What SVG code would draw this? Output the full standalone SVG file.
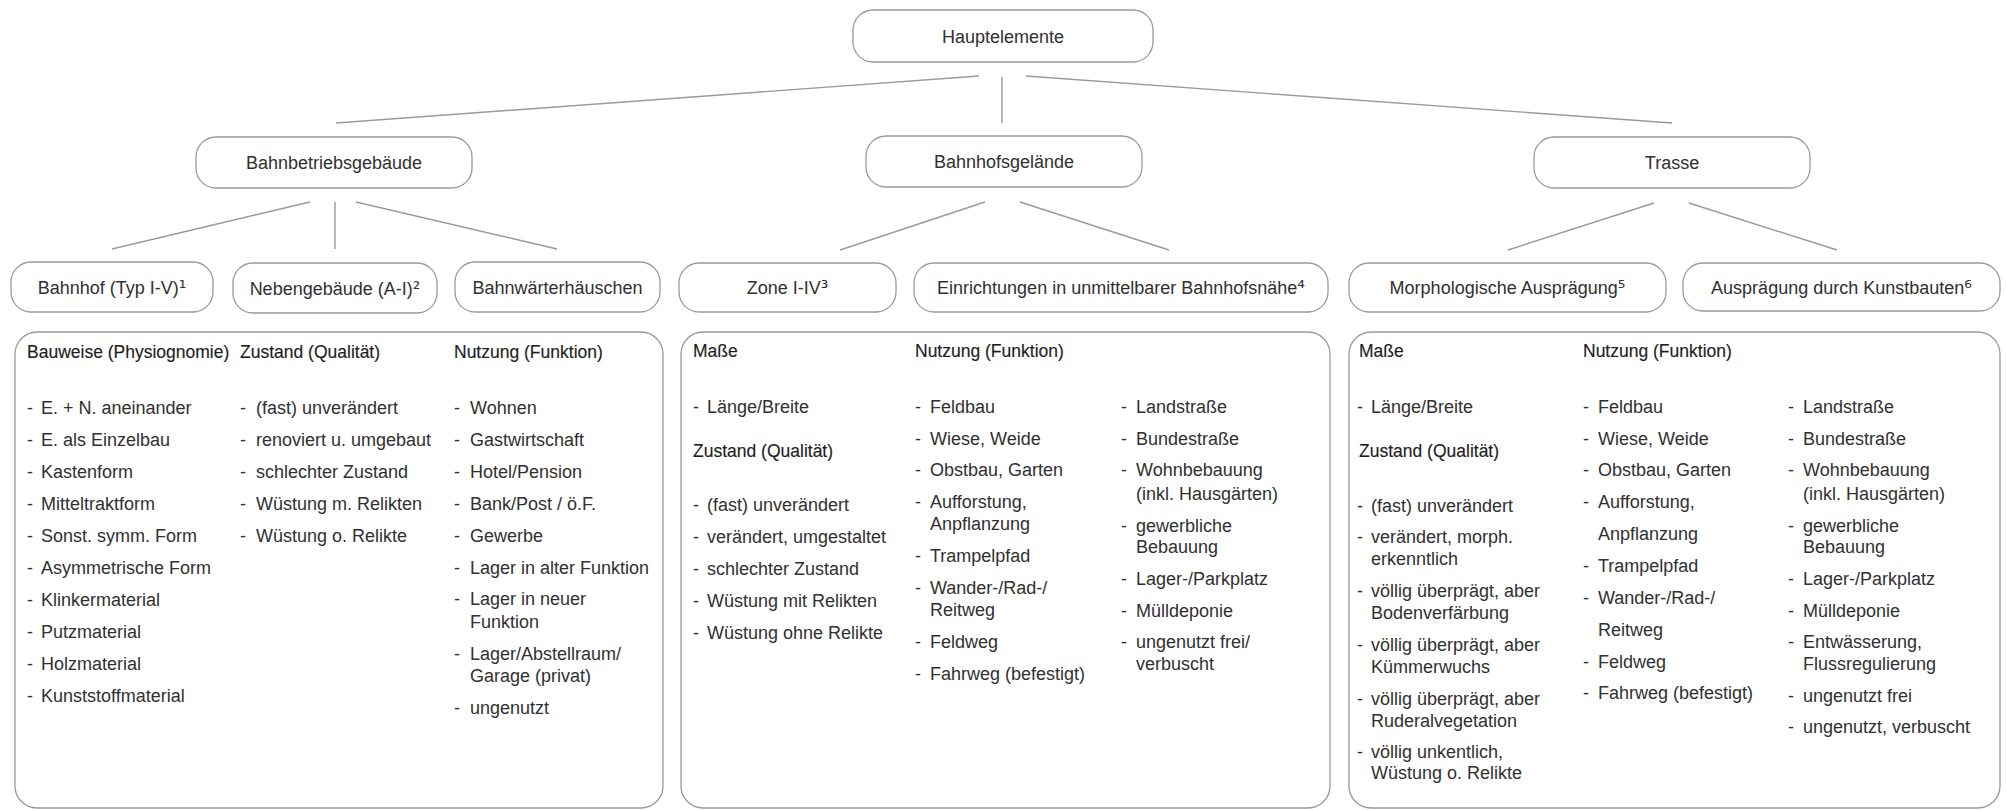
<svg xmlns="http://www.w3.org/2000/svg" width="2006" height="810" viewBox="0 0 2006 810">
<style>
text{font-family:"Liberation Sans",Arial,sans-serif;font-size:18px;fill:#303030}
.n{fill:#fff;stroke:#9a9a9a;stroke-width:1.3}
.b{fill:#fff;stroke:#9a9a9a;stroke-width:1.3}
.c line{stroke:#9a9a9a;stroke-width:1.4}
.l{text-anchor:middle}
.h{fill:#1e1e1e;stroke:#1e1e1e;stroke-width:0.15;font-size:17.5px}
.s{font-family:"DejaVu Sans",sans-serif;font-size:19px}
</style>
<rect width="2006" height="810" fill="#fff"/>
<g class="c" id="connectors">
<line x1="979" y1="76" x2="336" y2="123"/>
<line x1="1002" y1="77" x2="1002" y2="123"/>
<line x1="1026" y1="76" x2="1672" y2="123"/>
<line x1="310" y1="202" x2="112" y2="249"/>
<line x1="335" y1="202" x2="335" y2="249"/>
<line x1="356" y1="202" x2="557" y2="249"/>
<line x1="985" y1="202" x2="840" y2="250"/>
<line x1="1020" y1="202" x2="1169" y2="250"/>
<line x1="1654" y1="203" x2="1508" y2="250"/>
<line x1="1689" y1="203" x2="1837" y2="250"/>
</g>
<g id="hauptelemente"><rect class="n" x="853" y="10" width="300" height="52" rx="20"/><text class="l" x="1003" y="43">Hauptelemente</text></g>
<g id="bahnbetriebsgebaeude"><rect class="n" x="196" y="137" width="276" height="51" rx="20"/><text class="l" x="334" y="169">Bahnbetriebsgebäude</text></g>
<g id="bahnhofsgelaende"><rect class="n" x="866" y="136" width="276" height="51" rx="20"/><text class="l" x="1004" y="168">Bahnhofsgelände</text></g>
<g id="trasse"><rect class="n" x="1534" y="137" width="276" height="51" rx="20"/><text class="l" x="1672" y="169">Trasse</text></g>
<g id="bahnhof"><rect class="n" x="11" y="262" width="202" height="50" rx="20"/><text class="l" x="112" y="294">Bahnhof (Typ I-V)<tspan class="s">¹</tspan></text></g>
<g id="nebengebaeude"><rect class="n" x="233" y="263" width="204" height="50" rx="20"/><text class="l" x="335" y="295">Nebengebäude (A-I)<tspan class="s">²</tspan></text></g>
<g id="bahnwaerterhaeuschen"><rect class="n" x="455" y="262" width="205" height="50" rx="20"/><text class="l" x="557.5" y="294">Bahnwärterhäuschen</text></g>
<g id="zone"><rect class="n" x="679" y="263" width="217" height="49" rx="20"/><text class="l" x="787.5" y="294">Zone I-IV<tspan class="s">³</tspan></text></g>
<g id="einrichtungen"><rect class="n" x="914" y="263" width="414" height="49" rx="20"/><text class="l" x="1121" y="294">Einrichtungen in unmittelbarer Bahnhofsnähe<tspan class="s">⁴</tspan></text></g>
<g id="morphologische"><rect class="n" x="1349" y="263" width="317" height="49" rx="20"/><text class="l" x="1507.5" y="294">Morphologische Ausprägung<tspan class="s">⁵</tspan></text></g>
<g id="kunstbauten"><rect class="n" x="1683" y="263" width="317" height="48" rx="20"/><text class="l" x="1841.5" y="294">Ausprägung durch Kunstbauten<tspan class="s">⁶</tspan></text></g>

<g id="box-gebaeude">
<rect class="b" x="15" y="332" width="648" height="476" rx="22"/>
<text class="h" x="27" y="358">Bauweise (Physiognomie)</text>
<text class="h" x="240" y="358">Zustand (Qualität)</text>
<text class="h" x="454" y="358">Nutzung (Funktion)</text>
<text y="414"><tspan x="27">-</tspan><tspan x="41">E. + N. aneinander</tspan></text>
<text y="446"><tspan x="27">-</tspan><tspan x="41">E. als Einzelbau</tspan></text>
<text y="478"><tspan x="27">-</tspan><tspan x="41">Kastenform</tspan></text>
<text y="510"><tspan x="27">-</tspan><tspan x="41">Mitteltraktform</tspan></text>
<text y="542"><tspan x="27">-</tspan><tspan x="41">Sonst. symm. Form</tspan></text>
<text y="574"><tspan x="27">-</tspan><tspan x="41">Asymmetrische Form</tspan></text>
<text y="606"><tspan x="27">-</tspan><tspan x="41">Klinkermaterial</tspan></text>
<text y="638"><tspan x="27">-</tspan><tspan x="41">Putzmaterial</tspan></text>
<text y="670"><tspan x="27">-</tspan><tspan x="41">Holzmaterial</tspan></text>
<text y="702"><tspan x="27">-</tspan><tspan x="41">Kunststoffmaterial</tspan></text>
<text y="414"><tspan x="240">-</tspan><tspan x="256">(fast) unverändert</tspan></text>
<text y="446"><tspan x="240">-</tspan><tspan x="256">renoviert u. umgebaut</tspan></text>
<text y="478"><tspan x="240">-</tspan><tspan x="256">schlechter Zustand</tspan></text>
<text y="510"><tspan x="240">-</tspan><tspan x="256">Wüstung m. Relikten</tspan></text>
<text y="542"><tspan x="240">-</tspan><tspan x="256">Wüstung o. Relikte</tspan></text>
<text y="414"><tspan x="454">-</tspan><tspan x="470">Wohnen</tspan></text>
<text y="446"><tspan x="454">-</tspan><tspan x="470">Gastwirtschaft</tspan></text>
<text y="478"><tspan x="454">-</tspan><tspan x="470">Hotel/Pension</tspan></text>
<text y="510"><tspan x="454">-</tspan><tspan x="470">Bank/Post / ö.F.</tspan></text>
<text y="542"><tspan x="454">-</tspan><tspan x="470">Gewerbe</tspan></text>
<text y="574"><tspan x="454">-</tspan><tspan x="470">Lager in alter Funktion</tspan></text>
<text y="605"><tspan x="454">-</tspan><tspan x="470">Lager in neuer</tspan></text>
<text x="470" y="628">Funktion</text>
<text y="660"><tspan x="454">-</tspan><tspan x="470">Lager/Abstellraum/</tspan></text>
<text x="470" y="682">Garage (privat)</text>
<text y="714"><tspan x="454">-</tspan><tspan x="470">ungenutzt</tspan></text>
</g>

<g id="box-gelaende">
<rect class="b" x="681" y="332" width="649" height="476" rx="22"/>
<text class="h" x="693" y="357">Maße</text>
<text class="h" x="915" y="357">Nutzung (Funktion)</text>
<text y="413"><tspan x="693">-</tspan><tspan x="707">Länge/Breite</tspan></text>
<text class="h" x="693" y="457">Zustand (Qualität)</text>
<text y="511"><tspan x="693">-</tspan><tspan x="707">(fast) unverändert</tspan></text>
<text y="543"><tspan x="693">-</tspan><tspan x="707">verändert, umgestaltet</tspan></text>
<text y="575"><tspan x="693">-</tspan><tspan x="707">schlechter Zustand</tspan></text>
<text y="607"><tspan x="693">-</tspan><tspan x="707">Wüstung mit Relikten</tspan></text>
<text y="639"><tspan x="693">-</tspan><tspan x="707">Wüstung ohne Relikte</tspan></text>
<text y="413"><tspan x="915">-</tspan><tspan x="930">Feldbau</tspan></text>
<text y="445"><tspan x="915">-</tspan><tspan x="930">Wiese, Weide</tspan></text>
<text y="476"><tspan x="915">-</tspan><tspan x="930">Obstbau, Garten</tspan></text>
<text y="508"><tspan x="915">-</tspan><tspan x="930">Aufforstung,</tspan></text>
<text x="930" y="530">Anpflanzung</text>
<text y="562"><tspan x="915">-</tspan><tspan x="930">Trampelpfad</tspan></text>
<text y="594"><tspan x="915">-</tspan><tspan x="930">Wander-/Rad-/</tspan></text>
<text x="930" y="616">Reitweg</text>
<text y="648"><tspan x="915">-</tspan><tspan x="930">Feldweg</tspan></text>
<text y="680"><tspan x="915">-</tspan><tspan x="930">Fahrweg (befestigt)</tspan></text>
<text y="413"><tspan x="1121">-</tspan><tspan x="1136">Landstraße</tspan></text>
<text y="445"><tspan x="1121">-</tspan><tspan x="1136">Bundestraße</tspan></text>
<text y="476"><tspan x="1121">-</tspan><tspan x="1136">Wohnbebauung</tspan></text>
<text x="1136" y="500">(inkl. Hausgärten)</text>
<text y="532"><tspan x="1121">-</tspan><tspan x="1136">gewerbliche</tspan></text>
<text x="1136" y="553">Bebauung</text>
<text y="585"><tspan x="1121">-</tspan><tspan x="1136">Lager-/Parkplatz</tspan></text>
<text y="617"><tspan x="1121">-</tspan><tspan x="1136">Mülldeponie</tspan></text>
<text y="648"><tspan x="1121">-</tspan><tspan x="1136">ungenutzt frei/</tspan></text>
<text x="1136" y="670">verbuscht</text>
</g>

<g id="box-trasse">
<rect class="b" x="1349" y="332" width="651" height="476" rx="22"/>
<text class="h" x="1359" y="357">Maße</text>
<text class="h" x="1583" y="357">Nutzung (Funktion)</text>
<text y="413"><tspan x="1357">-</tspan><tspan x="1371">Länge/Breite</tspan></text>
<text class="h" x="1359" y="457">Zustand (Qualität)</text>
<text y="512"><tspan x="1357">-</tspan><tspan x="1371">(fast) unverändert</tspan></text>
<text y="543"><tspan x="1357">-</tspan><tspan x="1371">verändert, morph.</tspan></text>
<text x="1371" y="565">erkenntlich</text>
<text y="597"><tspan x="1357">-</tspan><tspan x="1371">völlig überprägt, aber</tspan></text>
<text x="1371" y="619">Bodenverfärbung</text>
<text y="651"><tspan x="1357">-</tspan><tspan x="1371">völlig überprägt, aber</tspan></text>
<text x="1371" y="673">Kümmerwuchs</text>
<text y="705"><tspan x="1357">-</tspan><tspan x="1371">völlig überprägt, aber</tspan></text>
<text x="1371" y="727">Ruderalvegetation</text>
<text y="758"><tspan x="1357">-</tspan><tspan x="1371">völlig unkentlich,</tspan></text>
<text x="1371" y="779">Wüstung o. Relikte</text>
<text y="413"><tspan x="1583">-</tspan><tspan x="1598">Feldbau</tspan></text>
<text y="445"><tspan x="1583">-</tspan><tspan x="1598">Wiese, Weide</tspan></text>
<text y="476"><tspan x="1583">-</tspan><tspan x="1598">Obstbau, Garten</tspan></text>
<text y="508"><tspan x="1583">-</tspan><tspan x="1598">Aufforstung,</tspan></text>
<text x="1598" y="540">Anpflanzung</text>
<text y="572"><tspan x="1583">-</tspan><tspan x="1598">Trampelpfad</tspan></text>
<text y="604"><tspan x="1583">-</tspan><tspan x="1598">Wander-/Rad-/</tspan></text>
<text x="1598" y="636">Reitweg</text>
<text y="668"><tspan x="1583">-</tspan><tspan x="1598">Feldweg</tspan></text>
<text y="699"><tspan x="1583">-</tspan><tspan x="1598">Fahrweg (befestigt)</tspan></text>
<text y="413"><tspan x="1788">-</tspan><tspan x="1803">Landstraße</tspan></text>
<text y="445"><tspan x="1788">-</tspan><tspan x="1803">Bundestraße</tspan></text>
<text y="476"><tspan x="1788">-</tspan><tspan x="1803">Wohnbebauung</tspan></text>
<text x="1803" y="500">(inkl. Hausgärten)</text>
<text y="532"><tspan x="1788">-</tspan><tspan x="1803">gewerbliche</tspan></text>
<text x="1803" y="553">Bebauung</text>
<text y="585"><tspan x="1788">-</tspan><tspan x="1803">Lager-/Parkplatz</tspan></text>
<text y="617"><tspan x="1788">-</tspan><tspan x="1803">Mülldeponie</tspan></text>
<text y="648"><tspan x="1788">-</tspan><tspan x="1803">Entwässerung,</tspan></text>
<text x="1803" y="670">Flussregulierung</text>
<text y="702"><tspan x="1788">-</tspan><tspan x="1803">ungenutzt frei</tspan></text>
<text y="733"><tspan x="1788">-</tspan><tspan x="1803">ungenutzt, verbuscht</tspan></text>
</g>
</svg>
